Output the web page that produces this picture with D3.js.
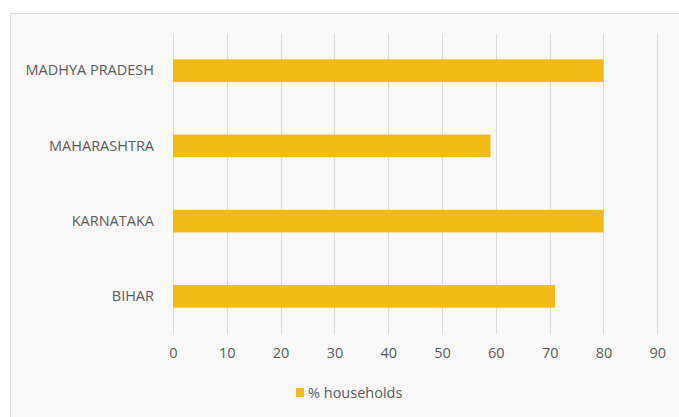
<!DOCTYPE html>
<html>
<head>
<meta charset="utf-8">
<script src="https://cdn.jsdelivr.net/npm/d3@7"></script>
<style>
  html, body { margin: 0; padding: 0; background: #ffffff; }
  svg { display: block; }
  text { font-family: "Open Sans", "Noto Sans", sans-serif; fill: #595959; }
</style>
</head>
<body>
<svg id="chart" width="679" height="417"></svg>
<script>
// Share of households by state
const states = ["MADHYA PRADESH", "MAHARASHTRA", "KARNATAKA", "BIHAR"];
const households = [80, 59, 80, 71];
const xTicks = [0, 10, 20, 30, 40, 50, 60, 70, 80, 90];
const seriesName = "% households";

const svg = d3.select("#chart");
const W = 679, H = 417;

// chart frame
svg.append("rect")
  .attr("x", 10.5).attr("y", 13.5)
  .attr("width", W).attr("height", H)
  .attr("fill", "#f9f9f9")
  .attr("stroke", "#d9d9d9");

const x = d3.scaleLinear().domain([0, 90]).range([173, 657.3]);
const y = d3.scaleBand().domain(states).range([33, 334]).paddingInner(0.7).paddingOuter(0.35);

// vertical gridlines
svg.append("g")
  .selectAll("line")
  .data(xTicks)
  .join("line")
  .attr("x1", d => Math.round(x(d)) + 0.5)
  .attr("x2", d => Math.round(x(d)) + 0.5)
  .attr("y1", 34)
  .attr("y2", 334)
  .attr("stroke", "#d9d9d9")
  .attr("stroke-width", 1);

// bars
svg.append("g")
  .selectAll("rect")
  .data(states.map((s, i) => ({ s, v: households[i] })))
  .join("rect")
  .attr("x", x(0))
  .attr("y", d => y(d.s))
  .attr("width", d => x(d.v) - x(0))
  .attr("height", y.bandwidth())
  .attr("fill", "#f2bb14");

// x axis labels
const xAxis = d3.axisBottom(x).tickValues(xTicks).tickSize(0).tickPadding(0);
const gx = svg.append("g").attr("transform", "translate(0,348)").call(xAxis);
gx.select(".domain").remove();
gx.selectAll("text")
  .attr("font-size", 14.5)
  .attr("font-family", null)
  .attr("fill", "#595959");

// y axis labels
const yAxis = d3.axisLeft(y).tickSize(0).tickPadding(19);
const gy = svg.append("g").attr("transform", `translate(${x(0)},0)`).call(yAxis);
gy.select(".domain").remove();
gy.selectAll("text")
  .attr("font-size", 14.5)
  .attr("font-family", null)
  .attr("fill", "#595959");

// legend
const lg = svg.append("g").attr("transform", "translate(296,388)");
lg.append("rect").attr("width", 8).attr("height", 9).attr("fill", "#f2bb14");
lg.append("text")
  .attr("x", 12).attr("y", 4.5)
  .attr("dy", "0.35em")
  .attr("font-size", 14.5)
  .text(seriesName);
</script>
</body>
</html>
